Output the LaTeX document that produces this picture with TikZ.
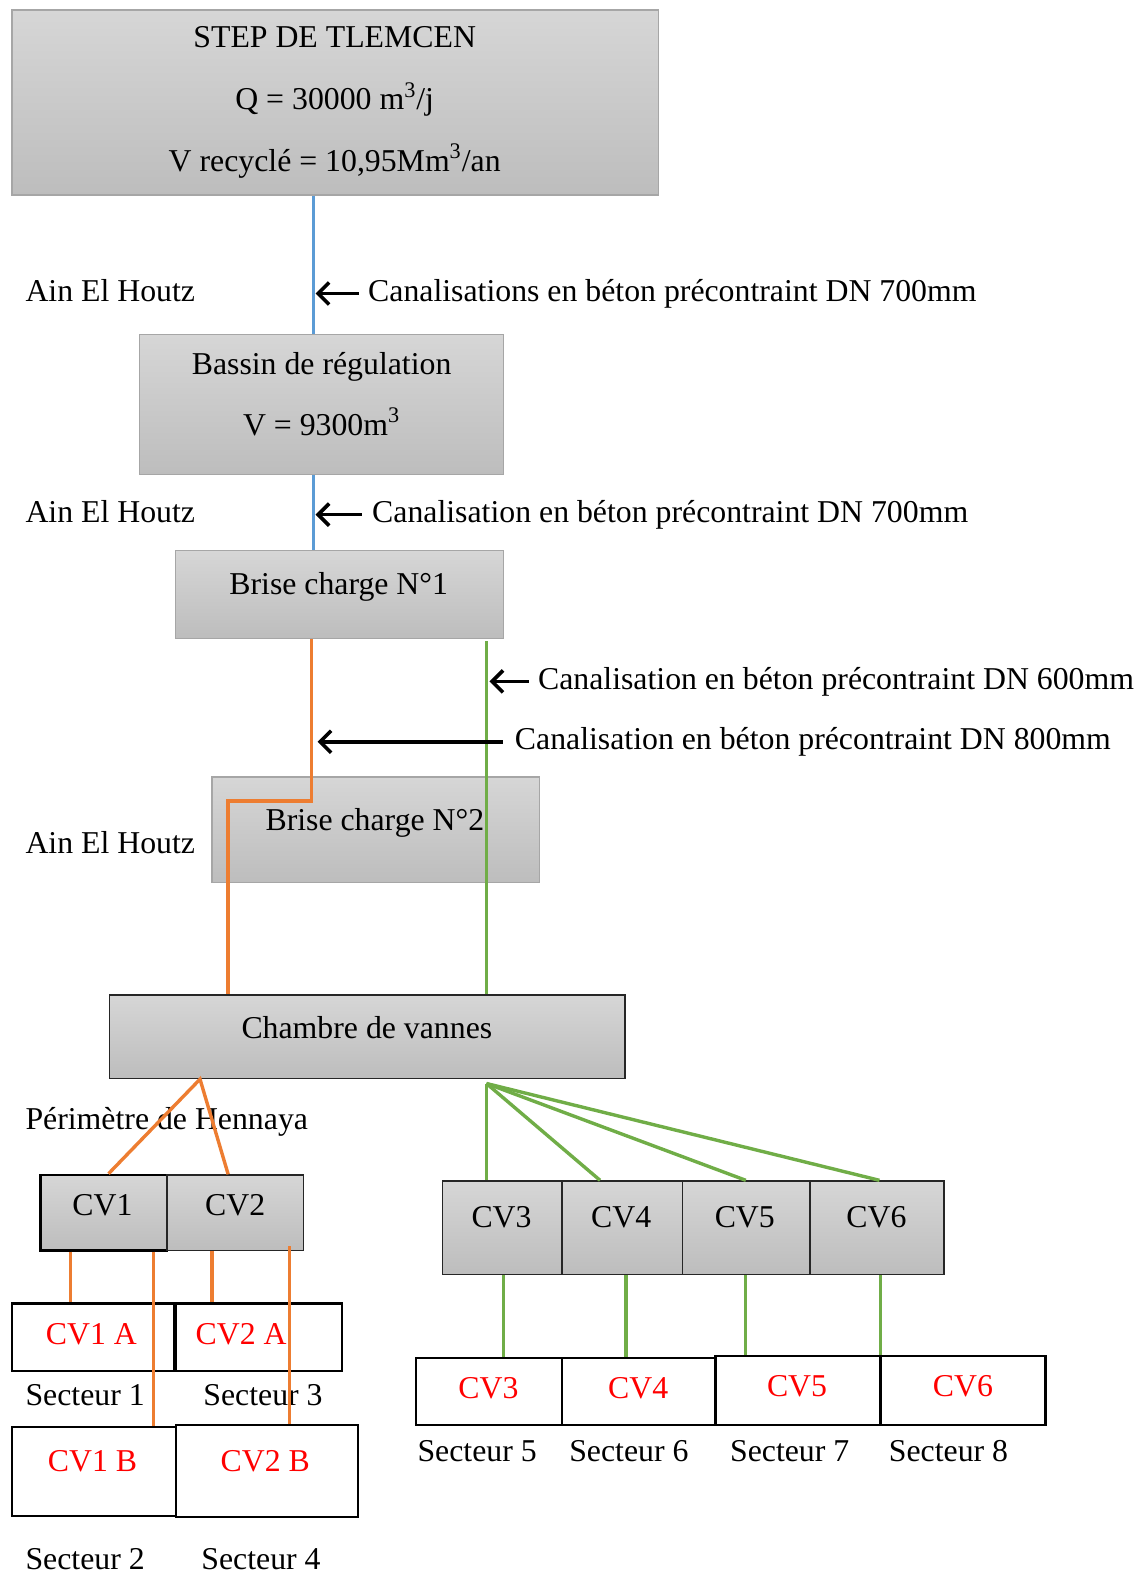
\documentclass[tikz,border=0pt]{standalone}
\usepackage{fontspec}
\setmainfont{Liberation Serif}
\usetikzlibrary{arrows.meta, fit, calc}

\definecolor{pipeblue}{RGB}{91,155,213}
\definecolor{pipeorange}{RGB}{237,125,49}
\definecolor{pipegreen}{RGB}{112,173,71}
\definecolor{boxedge}{RGB}{166,166,166}
\definecolor{boxtop}{RGB}{214,214,214}
\definecolor{boxbot}{RGB}{189,189,189}

\tikzset{
  ouvrage/.style={draw=boxedge, line width=0.6pt, top color=boxtop, bottom color=boxbot, inner sep=0pt},
  vanne/.style={ouvrage, draw=black!85, line width=0.7pt},
  secteur/.style={draw=black, line width=1.2pt, fill=white, inner sep=0pt},
  txt/.style={font=\fontsize{15.9}{19}\selectfont, inner sep=0pt},
  rouge/.style={txt, text=red},
  conduite/.style={line width=1.7pt},
  fleche/.style={line width=1.8pt, -{Straight Barb[length=5.5pt, width=11pt]}},
}

\begin{document}
\begin{tikzpicture}[x=0.5027pt, y=-0.5027pt]
  \useasboundingbox (0,0) rectangle (1137,1568);

  % ouvrages
  \node[ouvrage, fit={(12,10) (655,194)}] (step) {};
  \node[txt, align=center, font=\fontsize{15.9}{30.9}\selectfont] (stept) at (333,102)
    {STEP DE TLEMCEN\\Q = 30000 m\textsuperscript{3}/j\\V recyclé = 10,95Mm\textsuperscript{3}/an};
  \node[ouvrage, fit={(139,333) (501,472)}] (bassin) {};
  \node[txt, align=center, font=\fontsize{15.9}{30.2}\selectfont] (bassint) at (320,392)
    {Bassin de régulation\\V = 9300m\textsuperscript{3}};
  \node[ouvrage, fit={(175,548) (501,635)}] (bc1) {};
  \node[txt] (bc1t) at (337,584) {Brise charge N°1};
  \node[ouvrage, fit={(211,773) (537,878)}] (bc2) {};
  \node[txt] (bc2t) at (373,819) {Brise charge N°2};
  \node[vanne, fit={(109,990) (622,1073)}] (chambre) {};
  \node[txt] (chambret) at (365,1022) {Chambre de vannes};

  % lieux
  \node[txt, anchor=west] (aeh1) at (25,289) {Ain El Houtz};
  \node[txt, anchor=west] (aeh2) at (25,509) {Ain El Houtz};
  \node[txt, anchor=west] (aeh3) at (25,838) {Ain El Houtz};
  \node[txt, anchor=west] (henn) at (25,1116) {Périmètre de Hennaya};

  % canalisations (legendes)
  \node[txt, anchor=west, inner xsep=4.5pt] (can1) at (357,292) {Canalisations en béton précontraint DN 700mm};
  \node[txt, anchor=west, inner xsep=5pt] (can2) at (360,512) {Canalisation en béton précontraint DN 700mm};
  \node[txt, anchor=west, inner xsep=4.5pt] (can3) at (526,678) {Canalisation en béton précontraint DN 600mm};
  \node[txt, anchor=west, inner xsep=6pt] (can4) at (500,738) {Canalisation en béton précontraint DN 800mm};

  % chambres de vannes
  \node[ouvrage, draw=black, line width=1.3pt, fit={(40,1169) (166,1244)}] (cv1) {};
  \node[txt] (cv1t) at (102,1199) {CV1};
  \node[vanne, fit={(166,1169) (302,1244)}] (cv2) {};
  \node[txt] (cv2t) at (234,1199) {CV2};
  \node[vanne, fit={(440,1175) (559,1268)}] (cv3) {};
  \node[txt] (cv3t) at (499,1211) {CV3};
  \node[vanne, fit={(559,1175) (679,1268)}] (cv4) {};
  \node[txt] (cv4t) at (618,1211) {CV4};
  \node[vanne, fit={(679,1175) (806,1268)}] (cv5) {};
  \node[txt] (cv5t) at (741,1211) {CV5};
  \node[vanne, fit={(806,1175) (939,1268)}] (cv6) {};
  \node[txt] (cv6t) at (872,1211) {CV6};

  % secteurs
  \node[secteur, fit={(12,1297) (173,1364)}] (cv1a) {};
  \node[rouge] (cv1at) at (91,1327) {CV1 A};
  \node[secteur, fit={(175,1297) (340,1364)}] (cv2a) {};
  \node[rouge] (cv2at) at (240,1327) {CV2 A};
  \node[secteur, fit={(12,1420) (175,1508)}] (cv1b) {};
  \node[rouge] (cv1bt) at (92,1454) {CV1 B};
  \node[secteur, fit={(175,1418) (356,1509)}] (cv2b) {};
  \node[rouge] (cv2bt) at (264,1454) {CV2 B};
  \node[secteur, fit={(414,1351) (559,1418)}] (s5) {};
  \node[rouge] (s5t) at (486,1381) {CV3};
  \node[secteur, fit={(559,1351) (712,1418)}] (s6) {};
  \node[rouge] (s6t) at (635,1381) {CV4};
  \node[secteur, fit={(712,1349) (876,1418)}] (s7) {};
  \node[rouge] (s7t) at (793,1379) {CV5};
  \node[secteur, fit={(876,1349) (1040,1418)}] (s8) {};
  \node[rouge] (s8t) at (958,1379) {CV6};

  \node[txt, anchor=west] (sec1) at (25,1388) {Secteur 1};
  \node[txt, anchor=west] (sec3) at (202,1388) {Secteur 3};
  \node[txt, anchor=west] (sec2) at (25,1551) {Secteur 2};
  \node[txt, anchor=west] (sec4) at (200,1551) {Secteur 4};
  \node[txt, anchor=west] (sec5) at (415,1444) {Secteur 5};
  \node[txt, anchor=west] (sec6) at (566,1444) {Secteur 6};
  \node[txt, anchor=west] (sec7) at (726,1444) {Secteur 7};
  \node[txt, anchor=west] (sec8) at (884,1444) {Secteur 8};

  % reperes des conduites
  \coordinate (xb) at (312,0);
  \coordinate (xo) at (310,0);
  \coordinate (coude) at (227,797);
  \coordinate (xg) at (484,0);
  \coordinate (piq) at (199,0);

  % conduite bleue
  \draw[conduite, pipeblue] (step.south -| xb) -- (bassin.north -| xb);
  \draw[conduite, pipeblue] (bassin.south -| xb) -- (bc1.north -| xb);
  % conduite orange
  \draw[conduite, pipeorange] (bc1.south -| xo) |- (coude) -- (coude |- chambre.north);
  \draw[conduite, pipeorange] (cv1.north -| 108,0) -- (chambre.south -| piq) -- (cv2.north -| 227,0);
  \draw[conduite, pipeorange] (cv1.south -| 70,0) -- (cv1a.north -| 70,0);
  \draw[conduite, pipeorange] (cv1.south -| 153,0) -- (cv1b.north -| 153,0);
  \draw[conduite, pipeorange] (cv2.south -| 211,0) -- (cv2a.north -| 211,0);
  \draw[conduite, pipeorange] (288,1240) -- (cv2b.north -| 288,0);
  % conduite verte
  \draw[conduite, pipegreen] (484,638) -- (chambre.north -| xg);
  \foreach \cv/\xx in {cv3/484, cv4/597, cv5/742, cv6/875}
    \draw[conduite, pipegreen] (484,1078) -- (\cv.north -| \xx,0);
  \foreach \cv/\sec/\xx in {cv3/s5/501, cv4/s6/623, cv5/s7/742, cv6/s8/876}
    \draw[conduite, pipegreen] (\cv.south -| \xx,0) -- (\sec.north -| \xx,0);

  % fleches
  \draw[fleche] (can1.west) -- (can1.west -| 314,0);
  \draw[fleche] (can2.west) -- (can2.west -| 314,0);
  \draw[fleche] (can3.west) -- (can3.west -| 487,0);
  \draw[fleche] (can4.west) -- (can4.west -| 316,0);
\end{tikzpicture}
\end{document}
